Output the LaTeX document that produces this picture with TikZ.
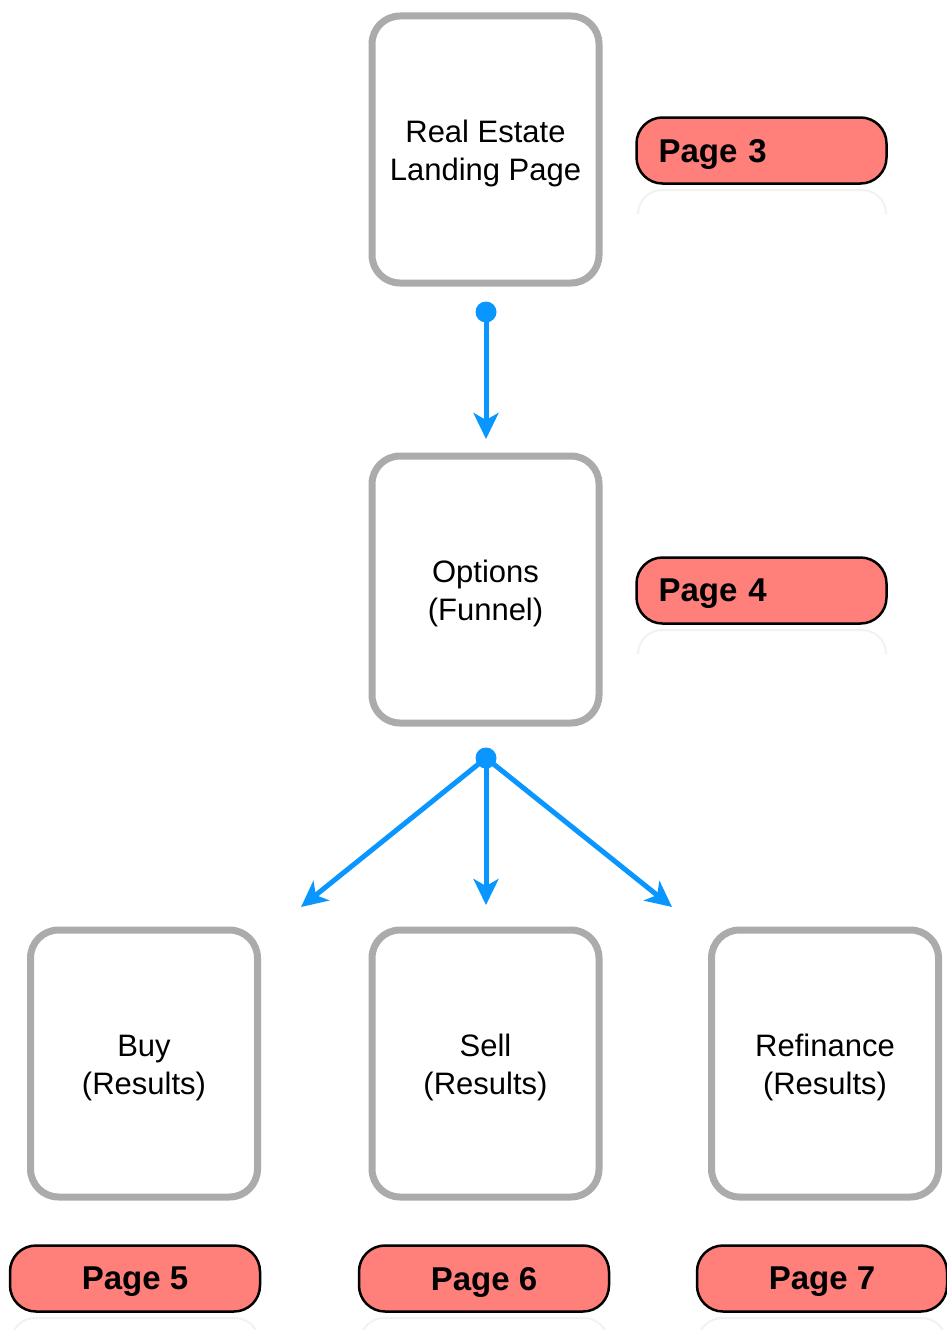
\documentclass[tikz,border=0pt]{standalone}
\usepackage{fontspec}
\setmainfont{Liberation Sans}
\usetikzlibrary{arrows.meta,shapes.misc}
\definecolor{boxgray}{RGB}{171,171,171}
\definecolor{flowblue}{RGB}{10,150,255}
\definecolor{labelred}{RGB}{255,128,122}
\newcommand{\topgap}{\rule{0pt}{30pt}}
\begin{document}
\begin{tikzpicture}[x=1pt,y=-1pt,
  pagebox/.style={draw=boxgray,line width=7pt,rounded corners=28pt,fill=white,
    minimum width=227pt,minimum height=267pt,align=center,inner sep=0pt,
    font=\fontsize{31}{38}\selectfont},
  pagelabel/.style={draw=black,line width=2.5pt,fill=labelred,rounded corners=26pt,
    minimum width=250pt,minimum height=66pt,inner sep=0pt,text depth=0pt,
    font=\bfseries\fontsize{33}{38}\selectfont},
  leftlabel/.style={pagelabel,text width=206pt,align=left},
  reflect/.style={draw=black!5,line width=2pt,rounded corners=24pt},
  dot/.style={circle,fill=flowblue,inner sep=0pt,minimum size=21pt},
  flow/.style={draw=flowblue,line width=5pt,
    -{Stealth[length=26pt,width=25pt,inset=7pt]}}
]
\useasboundingbox (0,0) rectangle (947,1330);
% boxes
\node[pagebox] (landing) at (485.5,149.5) {\topgap Real Estate\\Landing Page};
\node[pagebox] (options) at (485.5,589.5) {\topgap Options\\(Funnel)};
\node[pagebox] (buy) at (144,1063.5) {\topgap Buy\\(Results)};
\node[pagebox] (sell) at (485.5,1063.5) {\topgap Sell\\(Results)};
\node[pagebox] (refi) at (825,1063.5) {\topgap Refinance\\(Results)};
% reflections
\draw[reflect] (638,212) -- (638,190) -- (886,190) -- (886,212);
\draw[reflect] (638,652) -- (638,630) -- (886,630) -- (886,652);
\draw[reflect] (11,1340) -- (11,1318) -- (259,1318) -- (259,1340);
\draw[reflect] (360,1340) -- (360,1318) -- (608,1318) -- (608,1340);
\draw[reflect] (698,1340) -- (698,1318) -- (946,1318) -- (946,1340);
% labels
\node[leftlabel] (p3) at (761.5,150.5) {Page 3};
\node[leftlabel] (p4) at (761.5,590.5) {Page 4};
\node[pagelabel] (p5) at (135,1278.5) {Page 5};
\node[pagelabel] (p6) at (484,1278.5) {Page 6};
\node[pagelabel] (p7) at (822,1278.5) {Page 7};
% connectors
\node[dot] (d1) at (486,312) {};
\coordinate (t1) at (486,439);
\draw[flow] (d1.center) -- (t1);
\node[dot] (d2) at (486,758) {};
\coordinate (t2) at (301,907);
\coordinate (t3) at (486,905);
\coordinate (t4) at (672,907);
\draw[flow] (d2.center) -- (t2);
\draw[flow] (d2.center) -- (t3);
\draw[flow] (d2.center) -- (t4);
\end{tikzpicture}
\end{document}
